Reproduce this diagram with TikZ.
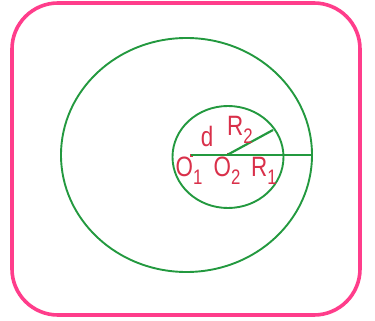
\documentclass[tikz,border=0pt]{standalone}
\usepackage{fontspec}
\setmainfont{Liberation Sans}
\definecolor{pinkb}{HTML}{FF3D8B}
\definecolor{grn}{HTML}{23993F}
\definecolor{lbl}{HTML}{D9304A}
\newcommand\lsub[1]{\raisebox{-0.3em}{\fontsize{21}{21}\selectfont #1}}
\newcommand\nrw[1]{\scalebox{0.8}[1]{#1}}
\begin{document}
\begin{tikzpicture}[x=1pt,y=-1pt,
  circ/.style={draw=grn,line width=1.9pt},
  lab/.style={text=lbl,font=\fontsize{28}{28}\selectfont,inner sep=0pt,anchor=base},
  ctr/.style={fill=lbl,minimum size=3pt,inner sep=0pt}]
\useasboundingbox (0,0) rectangle (375,321);
\draw[pinkb,line width=3.6pt,rounded corners=46pt] (12,3) rectangle (360,315);
\draw[circ] (186.5,155) ellipse [x radius=125.5,y radius=117];
\draw[circ] (228,157) ellipse [x radius=55.5,y radius=51];
\node[ctr] (O1) at (191,155) {};
\node[ctr] (O2) at (228,154.5) {};
\coordinate (E) at (312,155);
\coordinate (F) at (273,130);
\draw[grn,line width=2.8pt] (O1.center) -- (E);
\draw[grn,line width=2.2pt] (O2.center) -- (F);
\node[lab] (d) at (207,146) {\nrw{d}};
\node[lab] (r2) at (240,135) {\nrw{R\lsub{2}}};
\node[lab] (o1) at (189,176) {\nrw{O\lsub{1}}};
\node[lab] (o2) at (227,176) {\nrw{O\lsub{2}}};
\node[lab] (r1) at (264,176) {\nrw{R\lsub{1}}};
\end{tikzpicture}
\end{document}
